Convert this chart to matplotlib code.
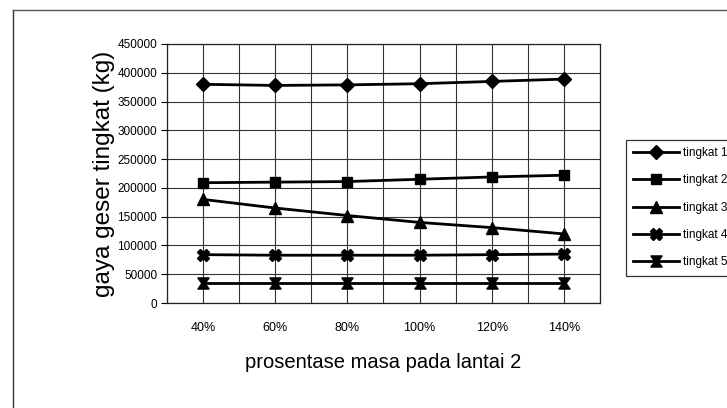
import matplotlib
matplotlib.use("Agg")
import matplotlib.pyplot as plt
import numpy as np
from matplotlib.lines import Line2D
from matplotlib.path import Path

plt.rcParams['font.family'] = ['Liberation Sans', 'DejaVu Sans']

# data
kategori = ["40%", "60%", "80%", "100%", "120%", "140%"]
tingkat1 = [380000, 378000, 379000, 381000, 385000, 389000]
tingkat2 = [209000, 210000, 211000, 215000, 219000, 222000]
tingkat3 = [180000, 165000, 152000, 140000, 131000, 120000]
tingkat4 = [84000, 83000, 83000, 83000, 84000, 85000]
tingkat5 = [35000, 35000, 35000, 35000, 35000, 35000]
nama = ["tingkat 1", "tingkat 2", "tingkat 3", "tingkat 4", "tingkat 5"]

# marker jam pasir untuk tingkat 5
jam_pasir = Path([(-1, 1), (1, 1), (0.3, 0), (1, -1), (-1, -1), (-0.3, 0), (-1, 1)],
                 [Path.MOVETO] + [Path.LINETO] * 5 + [Path.CLOSEPOLY])
markers = ['D', 's', '^', 'X', jam_pasir]
ukuran = [7, 7, 8, 8, 8]
semua = [tingkat1, tingkat2, tingkat3, tingkat4, tingkat5]

W, H = 727, 408
fig = plt.figure(figsize=(7.27, 4.08), dpi=100)
ax = fig.add_axes([167 / W, 1 - 303 / H, 433 / W, 259 / H])

x = np.arange(len(kategori))
for data, m, s, lab in zip(semua, markers, ukuran, nama):
    ax.plot(x, data, color='black', lw=2, marker=m, markersize=s,
            markerfacecolor='black', markeredgecolor='black', label=lab)

ax.set_xlim(-0.5, len(kategori) - 0.5)
ax.set_ylim(0, 450000)
ax.set_yticks(np.arange(0, 450001, 50000))
ax.set_xticks(x)
ax.set_xticklabels(kategori, fontsize=9)
ax.set_xticks(np.arange(-0.5, len(kategori), 1), minor=True)
ax.tick_params(axis='y', labelsize=8.5, length=4, direction='out', pad=3)
ax.tick_params(axis='x', which='both', length=0, pad=14)

ax.grid(True, which='major', color='#333333', lw=0.8)
ax.grid(True, which='minor', axis='x', color='#333333', lw=0.8)
ax.set_axisbelow(True)
for sp in ax.spines.values():
    sp.set_color('#222222')
    sp.set_linewidth(0.9)

ax.set_xlabel("prosentase masa pada lantai 2", fontsize=14.5, labelpad=13)
ax.set_ylabel("gaya geser tingkat (kg)", fontsize=17.5, labelpad=2)

leg = fig.legend(loc='upper left', bbox_to_anchor=(626 / W, 1 - 140 / H),
                 fontsize=8.5, frameon=True, fancybox=False, edgecolor='black',
                 handlelength=3.9, handletextpad=0.3, labelspacing=1.3,
                 borderpad=0.6, borderaxespad=0)
leg.get_frame().set_linewidth(0.9)

# bingkai luar grafik
fig.add_artist(Line2D([13 / W, 13 / W], [0, 1 - 10 / H], color='#333333', lw=1))
fig.add_artist(Line2D([13 / W, 1], [1 - 10 / H, 1 - 10 / H], color='#555555', lw=1))

fig.savefig("out.png", dpi=100)
